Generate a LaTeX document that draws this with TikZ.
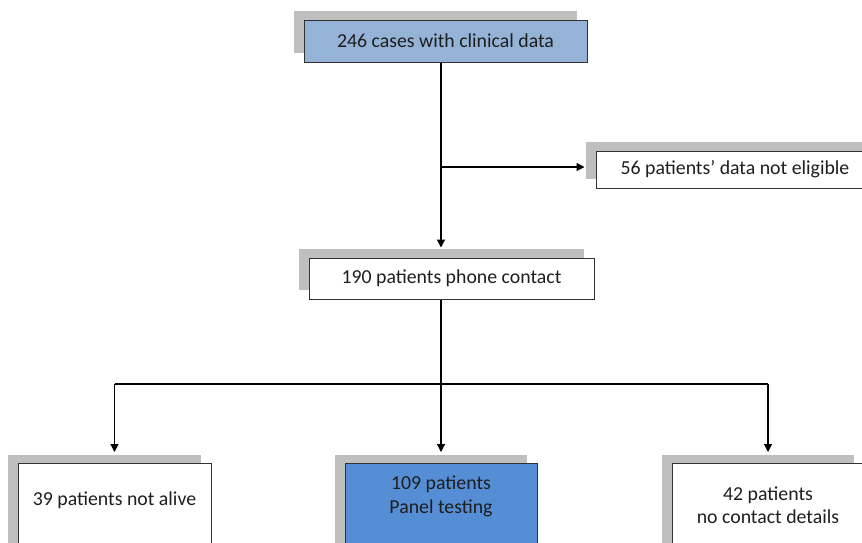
\documentclass[tikz,border=0pt]{standalone}
\usepackage{fontspec}
\setmainfont{Carlito}
\usetikzlibrary{arrows.meta,shadows}
\definecolor{shadowgray}{RGB}{191,191,191}
\definecolor{lightblue}{RGB}{149,179,215}
\definecolor{midblue}{RGB}{85,142,213}
\definecolor{boxborder}{RGB}{50,50,50}
\definecolor{txtcol}{RGB}{30,30,30}
\begin{document}
\begin{tikzpicture}[x=1pt,y=-1pt,
  box/.style={draw=boxborder, line width=1pt, fill=white, inner sep=0pt,
    general shadow={fill=shadowgray, draw=none, shadow xshift=-10pt, shadow yshift=9pt}},
  txt/.style={inner sep=0pt, align=center, text=txtcol, font=\fontsize{19.8}{23.5}\selectfont},
  arr/.style={-{Triangle[length=8pt,width=8pt]}, line width=1.2pt},
  ln/.style={line width=1.2pt}]
\useasboundingbox (0,0) rectangle (862,542);
\clip (0,0) rectangle (862,542);
% boxes
\node[box, fill=lightblue, minimum width=283pt, minimum height=42pt] (top) at (445.5,41) {};
\node[txt] (toptxt) at (top.center) {246 cases with clinical data};
\node[box, minimum width=278pt, minimum height=37pt] (elig) at (735,169.5) {};
\node[txt] (eligtxt) at (elig.center) {56 patients’ data not eligible};
\node[box, minimum width=285pt, minimum height=41pt] (phone) at (451.5,278.5) {};
\node[txt] (phonetxt) at (phone.center) {190 patients phone contact};
\node[box, anchor=north, minimum width=193pt, minimum height=100pt] (alive) at (114.5,463) {};
\node[txt] (alivetxt) at (114.5,500) {39 patients not alive};
\node[box, fill=midblue, anchor=north, minimum width=192pt, minimum height=100pt] (panel) at (441,463) {};
\node[txt] (paneltxt) at (441,496.5) {109 patients\\Panel testing};
\node[box, anchor=north, minimum width=192pt, minimum height=100pt] (nocon) at (768,463) {};
\node[txt] (nocontxt) at (768,505) {42 patients\\no contact details};
% connectors
\coordinate (vx) at (441,0);
\coordinate (br) at (441,167);
\coordinate (hb) at (441,384);
\draw[arr] (vx |- top.south) -- ([yshift=10pt]vx |- phone.north);
\draw[arr] (br) -- ([xshift=-11pt]br -| elig.west);
\draw[ln] (vx |- phone.south) -- (hb);
\draw[ln] (hb -| alive.north) -- (hb -| nocon.north);
\draw[arr] (hb -| alive.north) -- ([yshift=11pt]alive.north);
\draw[arr] (hb -| panel.north) -- ([yshift=11pt]panel.north);
\draw[arr] (hb -| nocon.north) -- ([yshift=11pt]nocon.north);
\end{tikzpicture}
\end{document}
